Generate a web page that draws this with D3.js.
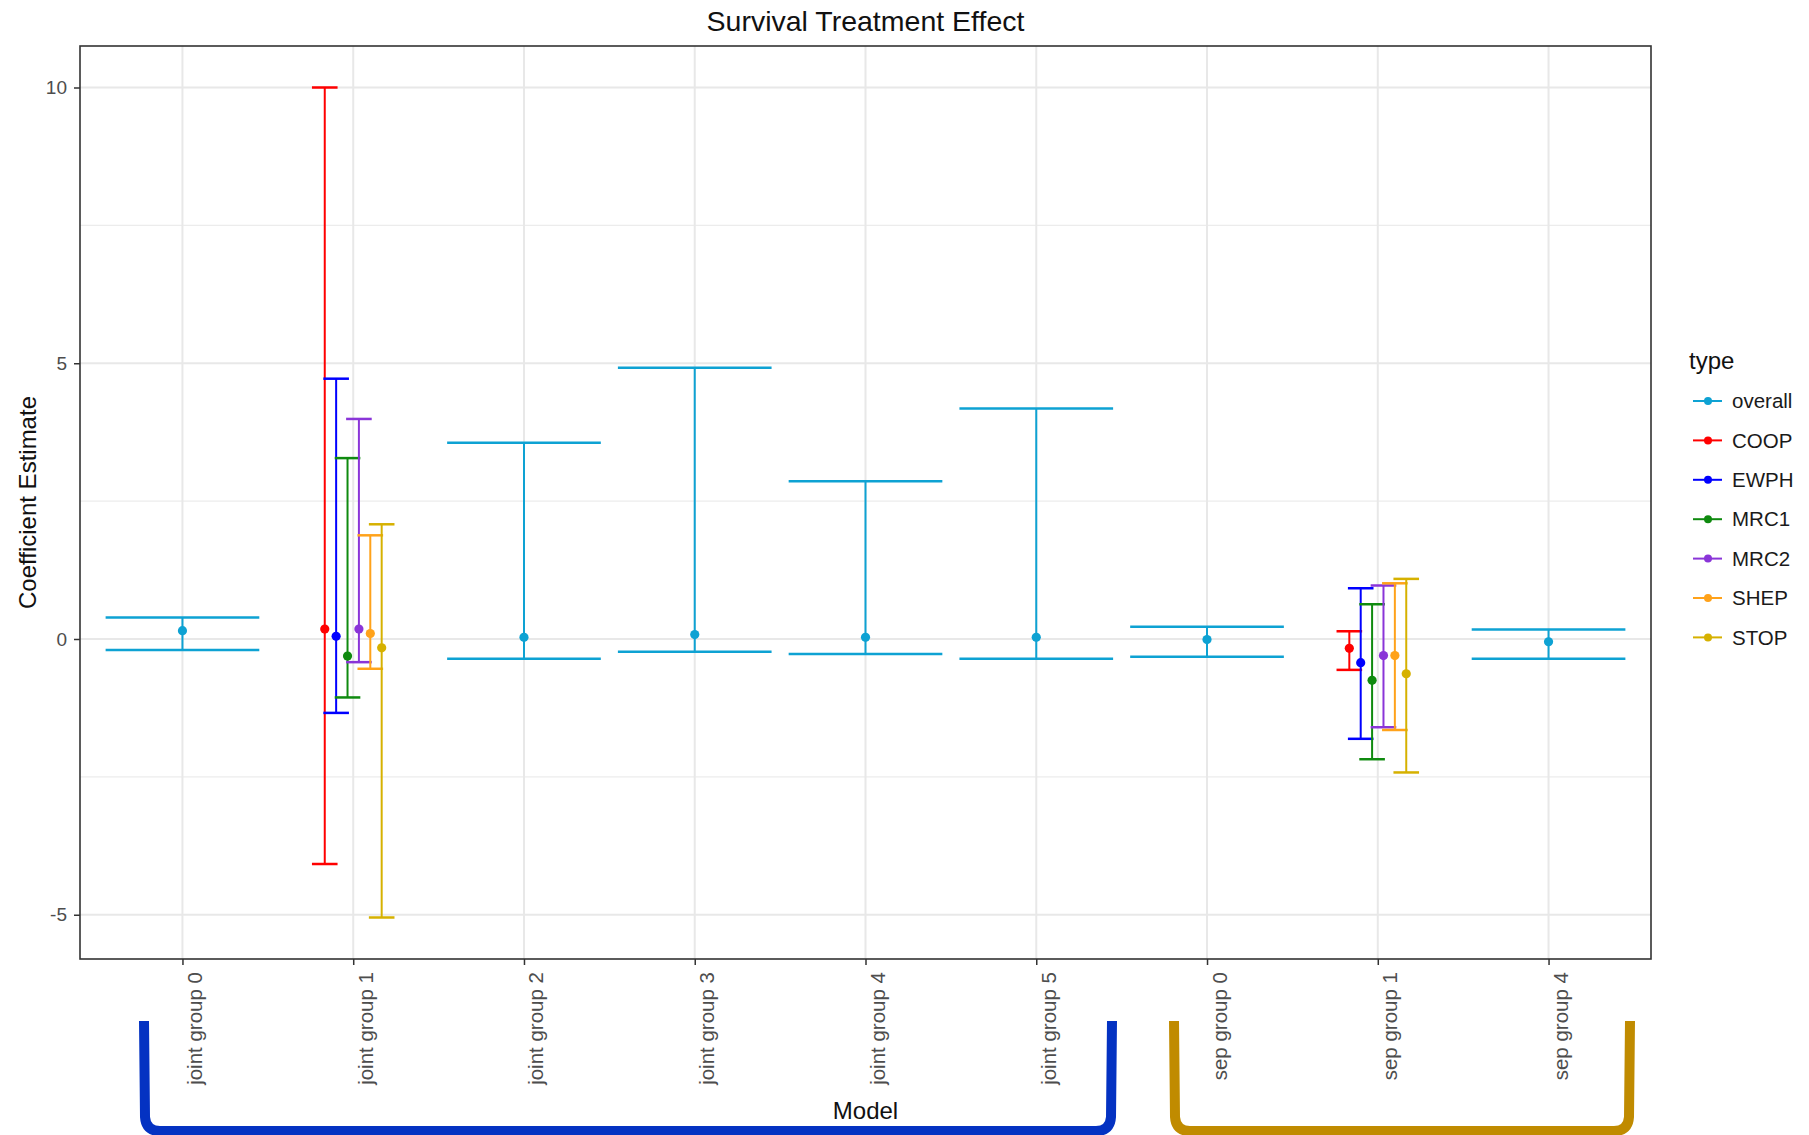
<!DOCTYPE html>
<html>
<head>
<meta charset="utf-8">
<script src="https://cdn.jsdelivr.net/npm/d3@7"></script>
<style>
  body { margin: 0; background: #fff; }
  text { font-family: "Liberation Sans", Arial, sans-serif; }
</style>
</head>
<body>
<div class="mainviz"></div>
<script>
// categories on the x axis
var models = ["joint group 0", "joint group 1", "joint group 2", "joint group 3", "joint group 4",
	"joint group 5", "sep group 0", "sep group 1", "sep group 4"];

var types = ["overall", "COOP", "EWPH", "MRC1", "MRC2", "SHEP", "STOP"];
var typeColors = ["#0ea2d3", "#ff0000", "#0000ff", "#0f8a0f", "#8a35d8", "#ffa21a", "#d6b100"];

// overall estimates
var overallModels = ["joint group 0", "joint group 2", "joint group 3", "joint group 4", "joint group 5", "sep group 0", "sep group 4"];
var overallEst = [0.15, 0.03, 0.08, 0.03, 0.03, -0.01, -0.05];
var overallLow = [-0.20, -0.36, -0.23, -0.27, -0.36, -0.32, -0.36];
var overallHigh = [0.39, 3.56, 4.92, 2.86, 4.18, 0.22, 0.17];

// study estimates (order = COOP, EWPH, MRC1, MRC2, SHEP, STOP)
var studies = ["COOP", "EWPH", "MRC1", "MRC2", "SHEP", "STOP"];
var jointG1Est = [0.18, 0.05, -0.31, 0.18, 0.10, -0.16];
var jointG1Low = [-4.08, -1.34, -1.06, -0.42, -0.54, -5.05];
var jointG1High = [10.0, 4.72, 3.28, 3.99, 1.88, 2.08];
var sepG1Est = [-0.17, -0.43, -0.75, -0.30, -0.30, -0.63];
var sepG1Low = [-0.56, -1.81, -2.18, -1.60, -1.65, -2.42];
var sepG1High = [0.14, 0.92, 0.63, 0.97, 1.01, 1.09];

var yTicks = [-5, 0, 5, 10];
var yMinor = [-2.5, 2.5, 7.5];

// build rows
var rows = [];
overallModels.forEach(function(m, i) {
	rows.push({ model: m, type: "overall", est: overallEst[i], lo: overallLow[i], hi: overallHigh[i], slot: 0, n: 1 });
});
studies.forEach(function(s, i) {
	rows.push({ model: "joint group 1", type: s, est: jointG1Est[i], lo: jointG1Low[i], hi: jointG1High[i], slot: i, n: 6 });
	rows.push({ model: "sep group 1", type: s, est: sepG1Est[i], lo: sepG1Low[i], hi: sepG1High[i], slot: i, n: 6 });
});

var W = 1809, H = 1135;
var margin = { top: 46, right: 158, bottom: 176, left: 80 };
var pw = W - margin.left - margin.right, ph = H - margin.top - margin.bottom;

var svg = d3.select(".mainviz").append("svg")
	.attr("width", W)
	.attr("height", H);

var color = d3.scaleOrdinal().domain(types).range(typeColors);

var x = d3.scalePoint()
	.domain(models)
	.range([0, pw])
	.padding(0.6);
var step = x.step();

var lo = d3.min(rows, function(d) { return d.lo; }),
	hi = d3.max(rows, function(d) { return d.hi; });
var pad = (hi - lo) * 0.05;
var y = d3.scaleLinear()
	.domain([lo - pad, hi + pad])
	.range([ph, 0]);

var g = svg.append("g")
	.attr("transform", "translate(" + margin.left + "," + margin.top + ")");

// grid
g.selectAll("line.minor").data(yMinor).enter().append("line")
	.attr("x1", 0).attr("x2", pw)
	.attr("y1", function(d) { return y(d); }).attr("y2", function(d) { return y(d); })
	.attr("stroke", "#ececec").attr("stroke-width", 1.2);
g.selectAll("line.major").data(yTicks).enter().append("line")
	.attr("x1", 0).attr("x2", pw)
	.attr("y1", function(d) { return y(d); }).attr("y2", function(d) { return y(d); })
	.attr("stroke", "#e8e8e8").attr("stroke-width", 2);
g.selectAll("line.vgrid").data(models).enter().append("line")
	.attr("x1", function(d) { return x(d); }).attr("x2", function(d) { return x(d); })
	.attr("y1", 0).attr("y2", ph)
	.attr("stroke", "#e8e8e8").attr("stroke-width", 2);

// error bars, dodged inside a 0.4 step
function cx(d) {
	if (d.n == 1) return x(d.model);
	return x(d.model) + (d.slot - (d.n - 1) / 2) * 0.4 * step / d.n;
}
function halfW(d) { return 0.9 * step / d.n / 2; }

var bars = g.selectAll("g.bar").data(rows).enter().append("g")
	.attr("class", "bar")
	.attr("stroke", function(d) { return color(d.type); })
	.attr("fill", function(d) { return color(d.type); })
	.attr("stroke-width", 2);

bars.append("line")
	.attr("x1", cx).attr("x2", cx)
	.attr("y1", function(d) { return y(d.lo); }).attr("y2", function(d) { return y(d.hi); });
bars.append("line")
	.attr("x1", function(d) { return cx(d) - halfW(d); }).attr("x2", function(d) { return cx(d) + halfW(d); })
	.attr("y1", function(d) { return y(d.hi); }).attr("y2", function(d) { return y(d.hi); })
	.attr("stroke-width", 2.5);
bars.append("line")
	.attr("x1", function(d) { return cx(d) - halfW(d); }).attr("x2", function(d) { return cx(d) + halfW(d); })
	.attr("y1", function(d) { return y(d.lo); }).attr("y2", function(d) { return y(d.lo); })
	.attr("stroke-width", 2.5);
bars.append("circle")
	.attr("cx", cx)
	.attr("cy", function(d) { return y(d.est); })
	.attr("r", 4.6)
	.attr("stroke", "none");

// axes
var yAxis = d3.axisLeft(y).tickValues(yTicks).tickSize(6).tickPadding(7)
	.tickFormat(function(d) { return String(d); });
var ya = g.append("g").attr("class", "axis y").call(yAxis);
ya.select(".domain").remove();
ya.selectAll("line").attr("stroke", "#333").attr("stroke-width", 1.5);
ya.selectAll("text").attr("font-size", 19).attr("fill", "#4d4d4d")
	.attr("font-family", "Liberation Sans, Arial, sans-serif");

var xAxis = d3.axisBottom(x).tickSize(6);
var xa = g.append("g").attr("class", "axis x")
	.attr("transform", "translate(0," + ph + ")")
	.call(xAxis);
xa.select(".domain").remove();
xa.selectAll("line").attr("stroke", "#333").attr("stroke-width", 1.5);
xa.selectAll("text")
	.attr("font-size", 20.5).attr("fill", "#4d4d4d")
	.attr("font-family", "Liberation Sans, Arial, sans-serif")
	.attr("text-anchor", "end")
	.attr("transform", "rotate(-90)")
	.attr("x", -13).attr("y", 3).attr("dy", "0.78em");

// panel border
g.append("rect")
	.attr("width", pw).attr("height", ph)
	.attr("fill", "none").attr("stroke", "#333").attr("stroke-width", 1.6);

// titles
svg.append("text")
	.attr("x", margin.left + pw / 2).attr("y", 31)
	.attr("text-anchor", "middle").attr("font-size", 28.5).attr("fill", "#111")
	.text("Survival Treatment Effect");
svg.append("text")
	.attr("transform", "translate(36," + (margin.top + ph / 2) + ") rotate(-90)")
	.attr("text-anchor", "middle").attr("font-size", 24).attr("fill", "#111")
	.text("Coefficient Estimate");
svg.append("text")
	.attr("x", margin.left + pw / 2).attr("y", 1119)
	.attr("text-anchor", "middle").attr("font-size", 24).attr("fill", "#111")
	.text("Model");

// legend
var legend = svg.append("g").attr("transform", "translate(1689,0)");
legend.append("text").attr("x", 0).attr("y", 369).attr("font-size", 24).attr("fill", "#111").text("type");
var items = legend.selectAll("g.item").data(types).enter().append("g")
	.attr("class", "item")
	.attr("transform", function(d, i) { return "translate(0," + (401 + i * 39.4) + ")"; });
items.append("line").attr("x1", 4).attr("x2", 33).attr("y1", 0).attr("y2", 0)
	.attr("stroke", function(d) { return color(d); }).attr("stroke-width", 2);
items.append("circle").attr("cx", 19).attr("cy", 0).attr("r", 4)
	.attr("fill", function(d) { return color(d); });
items.append("text").attr("x", 43).attr("y", 0).attr("dy", "0.35em")
	.attr("font-size", 20.5).attr("fill", "#1a1a1a")
	.text(function(d) { return d; });

// group brackets drawn over the axis labels
function bracket(x1, x2, c) {
	var top = 1021, bot = 1131;
	var p = "M" + x1 + "," + top + " L" + (x1 + 1) + "," + (bot - 14)
		+ " Q" + (x1 + 2) + "," + bot + " " + (x1 + 16) + "," + bot
		+ " L" + (x2 - 16) + "," + bot
		+ " Q" + (x2 - 2) + "," + bot + " " + (x2 - 1) + "," + (bot - 14)
		+ " L" + x2 + "," + top;
	svg.append("path").attr("d", p).attr("fill", "none")
		.attr("stroke", c).attr("stroke-width", 10);
}
bracket(144, 1112, "#0432c2");
bracket(1174, 1630, "#c08b00");
</script>
</body>
</html>
